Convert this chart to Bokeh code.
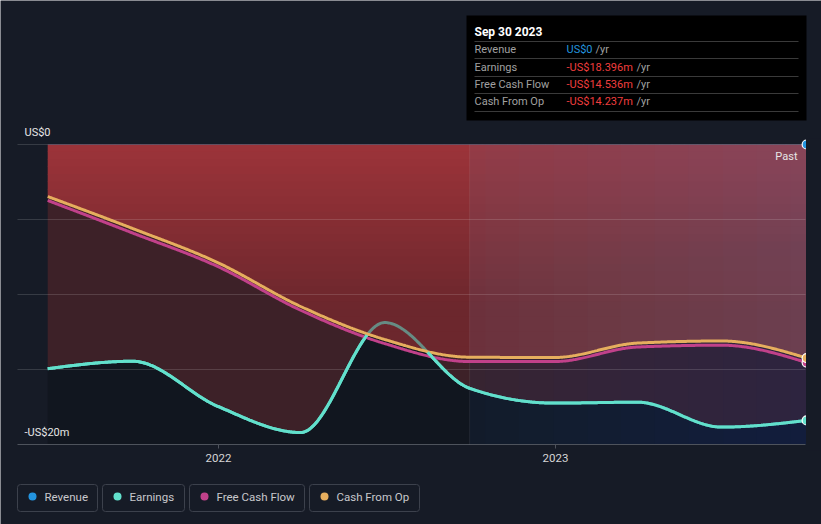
import numpy as np
from bokeh.plotting import figure
from bokeh.models import Range1d
from bokeh.core.properties import value
from bokeh.embed import file_html
from bokeh.resources import INLINE

# ---------------- data ----------------
dates = ["2021-06-30", "2021-09-30", "2021-12-31", "2022-03-31", "2022-06-30",
         "2022-09-30", "2022-12-31", "2023-03-31", "2023-06-30", "2023-09-30"]
revenue = [0, 0, 0, 0, 0, 0, 0, 0, 0, 0]
earnings = [-14.95, -14.45, -17.45, -19.2, -11.87, -16.25, -17.24, -17.18, -18.84, -18.396]
free_cash_flow = [-3.73, -5.9, -8.13, -11.05, -13.27, -14.47, -14.47, -13.5, -13.38, -14.536]
cash_from_op = [-3.47, -5.6, -7.87, -10.8, -13.0, -14.18, -14.2, -13.24, -13.1, -14.237]
series_names = ["Revenue", "Earnings", "Free Cash Flow", "Cash From Op"]
series_colors = ["#2394df", "#62e0cc", "#c1418a", "#e6ae5e"]
x_tick_dates = ["2022-01-01", "2023-01-01"]
x_tick_labels = ["2022", "2023"]
y_tick_values = [0, -20]
y_tick_labels = ["US$0", "-US$20m"]
grid_values = [0, -5, -10, -15]
past_split = "2022-09-30"
tooltip_title = "Sep 30 2023"

BG = "#161b26"
FONT = value("Roboto")

def ms(d):
    return np.array(d, dtype="datetime64[ms]").astype("int64").astype(float)

xs = ms(dates)
DAY = 86400000.0
base = ms("2022-01-01")
ms_per_px = 365 * DAY / 337.0

def X(px):
    return base + (px - 218) * ms_per_px

def Y(py):
    return -(py - 144) / 15.0

W, H = 821, 524
p = figure(width=W, height=H, x_range=Range1d(X(0), X(W)), y_range=Range1d(Y(H), Y(0)),
           output_backend="svg", toolbar_location=None, min_border=0,
           x_axis_location=None, y_axis_location=None,
           background_fill_color=BG, border_fill_color=BG, outline_line_color=None)
p.grid.visible = False


def monotone(xk, yk, xq):
    xk = np.asarray(xk, float); yk = np.asarray(yk, float)
    n = len(xk)
    h = np.diff(xk); s = np.diff(yk) / h
    t = np.zeros(n)
    for i in range(1, n - 1):
        h0, h1 = h[i - 1], h[i]; s0, s1 = s[i - 1], s[i]
        pp = (s0 * h1 + s1 * h0) / (h0 + h1)
        t[i] = (np.sign(s0) + np.sign(s1)) * min(abs(s0), abs(s1), 0.5 * abs(pp))
    t[0] = (3 * s[0] - t[1]) / 2
    t[-1] = (3 * s[-1] - t[-2]) / 2
    idx = np.clip(np.searchsorted(xk, xq, side="right") - 1, 0, n - 2)
    hh = h[idx]; u = (xq - xk[idx]) / hh
    y0 = yk[idx]; y1 = yk[idx + 1]; m0 = t[idx] * hh; m1 = t[idx + 1] * hh
    return ((2 * u**3 - 3 * u**2 + 1) * y0 + (u**3 - 2 * u**2 + u) * m0
            + (-2 * u**3 + 3 * u**2) * y1 + (u**3 - u**2) * m1)


split = ms(past_split)
xq = np.union1d(np.linspace(xs[0], xs[-1], 700), [split])
E = monotone(xs, earnings, xq)
F = monotone(xs, free_cash_flow, xq)
C = monotone(xs, cash_from_op, xq)
R = monotone(xs, revenue, xq)
bottom = y_tick_values[-1]

# area below earnings (slightly darker)
p.varea(x=xq, y1=E, y2=np.full_like(xq, bottom), fill_color="#11161f")
# maroon area between cash flow and earnings
p.varea(x=xq, y1=C, y2=np.minimum(E, C), fill_color="#3d2128")
# earnings line (full, later dimmed by red fill where above the cash lines)
p.line(xq, E, line_color=series_colors[1], line_width=3)

# red area from 0 to cash-from-op, vertical gradient through bands
top_c = np.array([157, 52, 58]); low_c = np.array([108, 39, 45])
levels = np.arange(0, -15.01, -0.5)
for hi, lo in zip(levels[:-1], levels[1:]):
    mid = (hi + lo) / 2
    f = np.clip(-mid / 11.0, 0, 1)
    col = (top_c * (1 - f) + low_c * f).astype(int)
    y_top = min(hi + 0.04, 0) if hi < 0 else 0
    y1 = np.clip(C, lo, y_top)
    p.varea(x=xq, y1=y1, y2=np.full_like(xq, y_top),
            fill_color="#%02x%02x%02x" % tuple(col))

# dim earnings segment hidden behind red area
above = E > C
above_ext = above | np.roll(above, 1) | np.roll(above, -1)
p.line(xq, np.where(above_ext, E, np.nan), line_color=series_colors[1], line_width=3, line_alpha=0.55)

# "past year" overlay gradient on the right side (stacked translucent layers)
mask = xq >= split
xr = xq[mask]; Cr = C[mask]
K = 10
b = 1 - (0.575 / 0.84) ** (1.0 / K)
for k in range(K + 1):
    if k == 0:
        a = 0.16; i0 = 0
    else:
        a = b; i0 = int((k - 0.5) * len(xr) / K)
    p.varea(x=xr[i0:], y1=np.zeros(len(xr) - i0), y2=Cr[i0:], fill_color="#736990", fill_alpha=a)
    p.varea(x=xr[i0:], y1=Cr[i0:], y2=np.full(len(xr) - i0, bottom), fill_color="#183a64", fill_alpha=a)

# grid lines
gx0, gx1 = X(17), X(805)
p.segment(x0=[gx0] * len(grid_values), x1=[gx1] * len(grid_values), y0=grid_values, y1=grid_values,
          line_color="white", line_alpha=0.14, line_width=1)
p.segment(x0=[gx0], x1=[gx1], y0=[bottom], y1=[bottom], line_color="#4e535c", line_width=1)
# past divider
p.segment(x0=[split], x1=[split], y0=[0], y1=[bottom], line_color="white", line_alpha=0.07, line_width=1)
# x ticks
xt = ms(x_tick_dates)
p.segment(x0=xt, x1=xt, y0=[bottom] * 2, y1=[Y(448)] * 2, line_color="#4e535c", line_width=1)
p.text(x=xt, y=[Y(457)] * 2, text=x_tick_labels, text_font=FONT, text_font_size="11.5px",
       text_color="#d6d6d6", text_align="center", text_baseline="middle")

# revenue, cash lines
p.line(xq, R, line_color=series_colors[0], line_width=1, line_alpha=0.15)
p.line(xq, F, line_color=series_colors[2], line_width=3)
p.line(xq, C, line_color=series_colors[3], line_width=3)
p.line(xq, np.where(above, np.nan, E), line_color=series_colors[1], line_width=3)

# end markers
last = [revenue[-1], earnings[-1], free_cash_flow[-1], cash_from_op[-1]]
p.scatter(x=[xs[-1]] * 4, y=last, size=9, fill_color=series_colors, line_color="white", line_width=1.2)
# clip markers at plot edge
p.quad(left=[X(805.5)], right=[X(W)], bottom=[Y(450)], top=[Y(138)], fill_color=BG, line_color=None)

# y labels
p.text(x=[X(24)] * 2, y=[Y(132), Y(432)], text=y_tick_labels, text_font=FONT, text_font_size="11px",
       text_color="#e6e6e6", text_align="left", text_baseline="middle")
# Past label
p.text(x=[X(797)], y=[Y(156)], text=["Past"], text_font=FONT, text_font_size="11px",
       text_color="#e6e6e6", text_align="right", text_baseline="middle")

# tooltip box
p.quad(left=[X(466)], right=[X(806)], top=[Y(15)], bottom=[Y(120)], fill_color="#000000", line_color=None)
sep_y = [Y(41), Y(58), Y(76), Y(93), Y(111)]
p.segment(x0=[X(474)] * 5, x1=[X(798)] * 5, y0=sep_y, y1=sep_y, line_color="#3a3a3a", line_width=1)
p.text(x=[X(474)], y=[Y(31)], text=[tooltip_title], text_font=FONT, text_font_size="12px",
       text_font_style="bold", text_color="#ffffff", text_baseline="middle")
row_y = [Y(49), Y(66.5), Y(84), Y(101)]

def fmt(v):
    return "US$0" if v == 0 else ("-" if v < 0 else "") + "US$%.3fm" % abs(v)

vals = [fmt(v) for v in last]
val_colors = ["#2394df", "#f03e3e", "#f03e3e", "#f03e3e"]
p.text(x=[X(474)] * 4, y=row_y, text=series_names, text_font=FONT, text_font_size="11px",
       text_color="#a0a0a0", text_baseline="middle")
p.text(x=[X(566)] * 4, y=row_y, text=vals, text_font=FONT, text_font_size="11px",
       text_color=val_colors, text_baseline="middle")
p.text(x=[X(595), X(636), X(636), X(636)], y=row_y, text=["/yr"] * 4, text_font=FONT,
       text_font_size="11px", text_color="#a0a0a0", text_baseline="middle")

# legend
box_l = [17, 102, 189, 309]; box_r = [97, 184, 304, 419]
p.quad(left=[X(v) for v in box_l], right=[X(v) for v in box_r], top=[Y(484)] * 4, bottom=[Y(511)] * 4,
       fill_color=None, line_color="#3c414c", line_width=1, border_radius=3)
p.scatter(x=[X(v + 15) for v in box_l], y=[Y(496)] * 4, size=8, fill_color=series_colors, line_color=None)
p.text(x=[X(v + 27) for v in box_l], y=[Y(496.5)] * 4, text=series_names, text_font=FONT,
       text_font_size="11.5px", text_color="#c8c8cc", text_baseline="middle")

open("out.html", "w").write(file_html(p, INLINE))
